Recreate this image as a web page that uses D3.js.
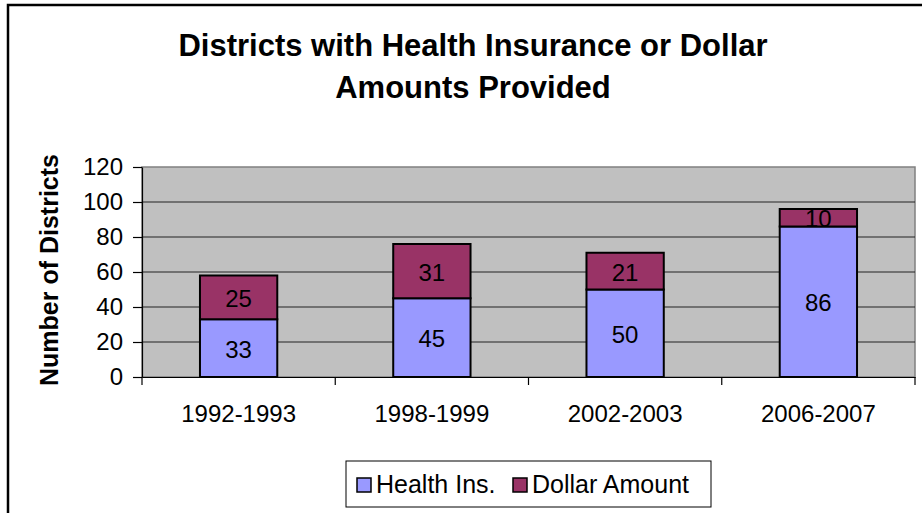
<!DOCTYPE html>
<html lang="en">
<head>
    <meta charset="UTF-8">
    <title>Districts with Health Insurance</title>
    <script src="https://d3js.org/d3.v7.min.js"></script>
</head>
<style>
    body{
        margin: 0;
        background-color: white;
    }
    svg text{
        font-family: "Liberation Sans", Arial, sans-serif;
        fill: black;
    }
</style>
<body>
    <script>
    // chart data
    const years = ["1992-1993", "1998-1999", "2002-2003", "2006-2007"];
    const healthIns = [33, 45, 50, 86];
    const dollarAmount = [25, 31, 21, 10];
    const seriesNames = ["Health Ins.", "Dollar Amount"];
    const yTicks = [0, 20, 40, 60, 80, 100, 120];

    const colors = ["#9999ff", "#993366"];

    const width = 922;
    const height = 513;
    const margin = { top: 167, right: 7, bottom: 136, left: 142 };
    const chartWidth = width - margin.left - margin.right;
    const chartHeight = height - margin.top - margin.bottom;

    const svg = d3.select('body')
        .append('svg')
        .attr('width', width)
        .attr('height', height);

    // outer frame
    svg.append('rect')
        .attr('x', 8).attr('y', 5)
        .attr('width', width).attr('height', height)
        .attr('fill', 'white')
        .attr('stroke', 'black')
        .attr('stroke-width', 2.5);

    // title
    svg.append('text')
        .attr('text-anchor', 'middle')
        .attr('font-weight', 'bold')
        .attr('font-size', 31)
        .selectAll('tspan')
        .data(["Districts with Health Insurance or Dollar", "Amounts Provided"])
        .enter()
        .append('tspan')
        .attr('x', 473)
        .attr('y', (d, i) => 56 + i * 42)
        .text(d => d);

    const chart = svg.append('g')
        .attr('transform', `translate(${margin.left}, ${margin.top})`);

    const xScale = d3.scaleBand()
        .domain(years)
        .range([0, chartWidth])
        .paddingInner(0.6)
        .paddingOuter(0.3);

    const yScale = d3.scaleLinear()
        .domain([0, 120])
        .range([chartHeight, 0]);

    // plot background
    chart.append('rect')
        .attr('width', chartWidth)
        .attr('height', chartHeight)
        .attr('fill', '#c0c0c0')
        .attr('stroke', '#808080')
        .attr('stroke-width', 1.5);

    // gridlines
    chart.selectAll('.grid')
        .data(yTicks.slice(1, -1))
        .enter()
        .append('line')
        .attr('x1', 0).attr('x2', chartWidth)
        .attr('y1', d => yScale(d)).attr('y2', d => yScale(d))
        .attr('stroke', '#222')
        .attr('stroke-width', 1);

    const stacked = d3.stack().keys([0, 1])(years.map((y, i) => ({ 0: healthIns[i], 1: dollarAmount[i], year: y })));

    const layers = chart.selectAll('.layer')
        .data(stacked)
        .enter()
        .append('g')
        .attr('fill', (d, i) => colors[i]);

    layers.selectAll('rect')
        .data(d => d)
        .enter()
        .append('rect')
        .attr('x', d => xScale(d.data.year))
        .attr('y', d => yScale(d[1]))
        .attr('width', xScale.bandwidth())
        .attr('height', d => yScale(d[0]) - yScale(d[1]))
        .attr('stroke', 'black')
        .attr('stroke-width', 2);

    layers.selectAll('.lbl')
        .data(d => d)
        .enter()
        .append('text')
        .attr('class', 'lbl')
        .attr('text-anchor', 'middle')
        .attr('dominant-baseline', 'central')
        .attr('font-size', 24)
        .attr('x', d => xScale(d.data.year) + xScale.bandwidth() / 2)
        .attr('y', d => yScale((d[0] + d[1]) / 2) + 1)
        .text(d => d[1] - d[0]);

    // Y axis
    const yAxis = chart.append('g')
        .call(d3.axisLeft(yScale).tickValues(yTicks).tickSize(9).tickSizeOuter(0).tickPadding(10));
    yAxis.selectAll('text').attr('font-size', 24);
    yAxis.selectAll('line, path').attr('stroke', 'black').attr('stroke-width', 1.2);

    // X axis
    const xAxis = chart.append('g')
        .attr('transform', `translate(0, ${chartHeight})`)
        .call(d3.axisBottom(xScale).tickSize(0).tickPadding(28));
    xAxis.select('.domain').attr('stroke', 'black').attr('stroke-width', 1.2);
    xAxis.selectAll('text').attr('font-size', 24);
    xAxis.selectAll('.tick line').remove();
    // category separator ticks
    const sep = d3.range(years.length + 1).map(i => i * chartWidth / years.length);
    xAxis.selectAll('.sep')
        .data(sep)
        .enter()
        .append('line')
        .attr('x1', d => d).attr('x2', d => d)
        .attr('y1', 0).attr('y2', 8)
        .attr('stroke', 'black')
        .attr('stroke-width', 1.2);

    // Y axis label
    svg.append('text')
        .attr('text-anchor', 'middle')
        .attr('font-weight', 'bold')
        .attr('font-size', 25)
        .attr('transform', 'translate(58, 270) rotate(-90)')
        .text('Number of Districts');

    // legend
    const legend = svg.append('g').attr('transform', 'translate(346, 461)');
    legend.append('rect')
        .attr('width', 365).attr('height', 46)
        .attr('fill', 'white')
        .attr('stroke', 'black')
        .attr('stroke-width', 1);
    const legendX = [10, 166];
    const items = legend.selectAll('.item')
        .data(seriesNames)
        .enter()
        .append('g')
        .attr('transform', (d, i) => `translate(${legendX[i]}, 0)`);
    items.append('rect')
        .attr('x', 1).attr('y', 17)
        .attr('width', 14).attr('height', 14)
        .attr('fill', (d, i) => colors[i])
        .attr('stroke', 'black')
        .attr('stroke-width', 1.5);
    items.append('text')
        .attr('x', 20).attr('y', 32)
        .attr('font-size', 25)
        .text(d => d);
    </script>
</body>
</html>
